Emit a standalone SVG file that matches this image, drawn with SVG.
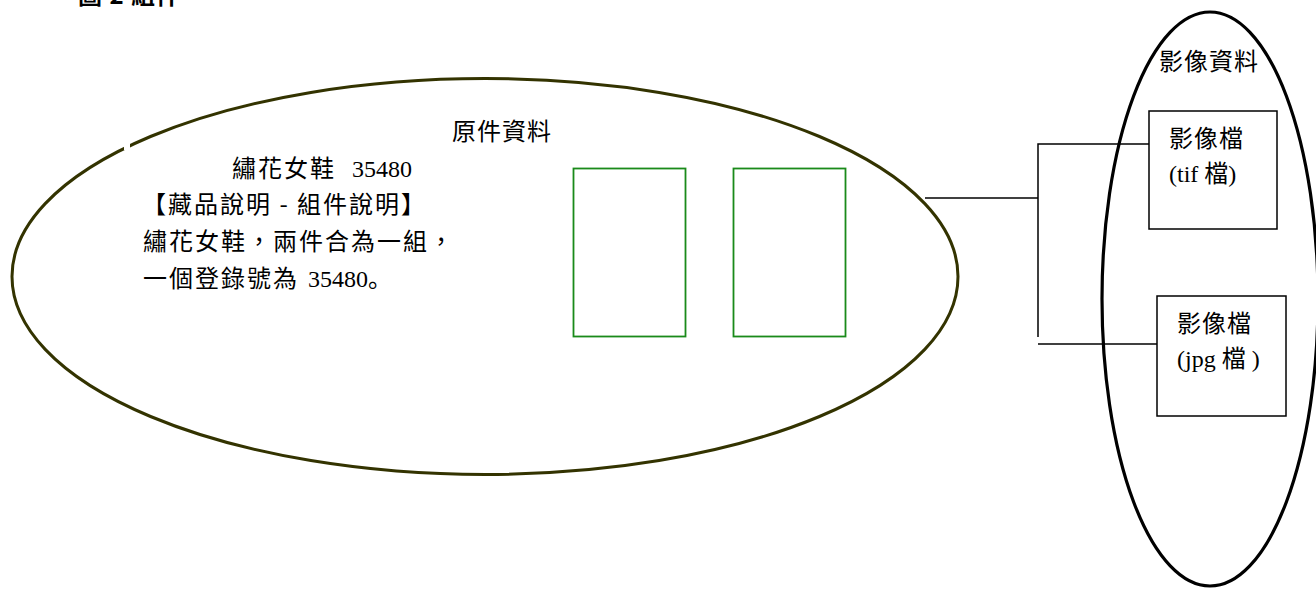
<svg xmlns="http://www.w3.org/2000/svg" width="1316" height="589" viewBox="0 0 1316 589">
<style>
.cjk{font-family:"Noto Sans CJK TC","Noto Sans CJK JP",sans-serif;font-size:24px;font-weight:normal;fill:#000;letter-spacing:1px}
.cjk2{font-family:"Noto Sans CJK TC","Noto Sans CJK JP",sans-serif;font-size:24px;font-weight:normal;fill:#000;letter-spacing:2px}
.ser{font-family:"Liberation Serif","Times New Roman",serif;font-size:24px;font-weight:normal;letter-spacing:0}
.ln{stroke:#000;stroke-width:1.5;fill:none}
.box{stroke:#000;stroke-width:1.5;fill:#fff}
.grn{stroke:#1a8a1a;stroke-width:1.8;fill:none}
</style>
<rect width="1316" height="589" fill="#fff"/>
<text class="cjk" x="78" y="4" style="font-weight:bold">圖 2 組件</text>
<g id="original">
<ellipse cx="485" cy="276.5" rx="473" ry="198" fill="none" stroke="#333300" stroke-width="3"/>
<rect x="124" y="142" width="6" height="8" fill="#fff"/>
<text class="cjk" x="452" y="140">原件資料</text>
<text x="232" y="177"><tspan class="cjk2">繡花女鞋</tspan><tspan class="ser" x="352">35480</tspan></text>
<text class="cjk2" x="142" y="213">【藏品說明 - 組件說明】</text>
<text class="cjk2" x="143" y="250">繡花女鞋，兩件合為一組，</text>
<text x="143" y="287"><tspan class="cjk2">一個登錄號為</tspan><tspan class="ser" x="308">35480</tspan><tspan class="cjk2" style="font-family:'Noto Sans CJK JP',sans-serif">。</tspan></text>
</g>
<g id="item1"><rect class="grn" x="573.5" y="168.5" width="112" height="168"/></g>
<g id="item2"><rect class="grn" x="733.5" y="168.5" width="112" height="168"/></g>
<g id="image">
<ellipse cx="1210" cy="299" rx="108" ry="287" fill="none" stroke="#000" stroke-width="3.2"/>
<text class="cjk" x="1159" y="70">影像資料</text>
</g>
<g id="connectors">
<polyline class="ln" points="925,198 1038,198"/>
<polyline class="ln" points="1038,337 1038,144 1149,144"/>
<polyline class="ln" points="1038,344 1157,344"/>
</g>
<g id="tif">
<rect class="box" x="1149" y="111" width="128" height="118"/>
<text class="cjk" x="1169" y="147">影像檔</text>
<text x="1169" y="182"><tspan class="ser">(tif </tspan><tspan class="cjk" style="letter-spacing:0">檔</tspan><tspan class="ser">)</tspan></text>
</g>
<g id="jpg">
<rect class="box" x="1157" y="296" width="129" height="120"/>
<text class="cjk" x="1177" y="332">影像檔</text>
<text x="1177" y="367"><tspan class="ser">(jpg </tspan><tspan class="cjk" style="letter-spacing:0">檔</tspan><tspan class="ser"> )</tspan></text>
</g>
</svg>
